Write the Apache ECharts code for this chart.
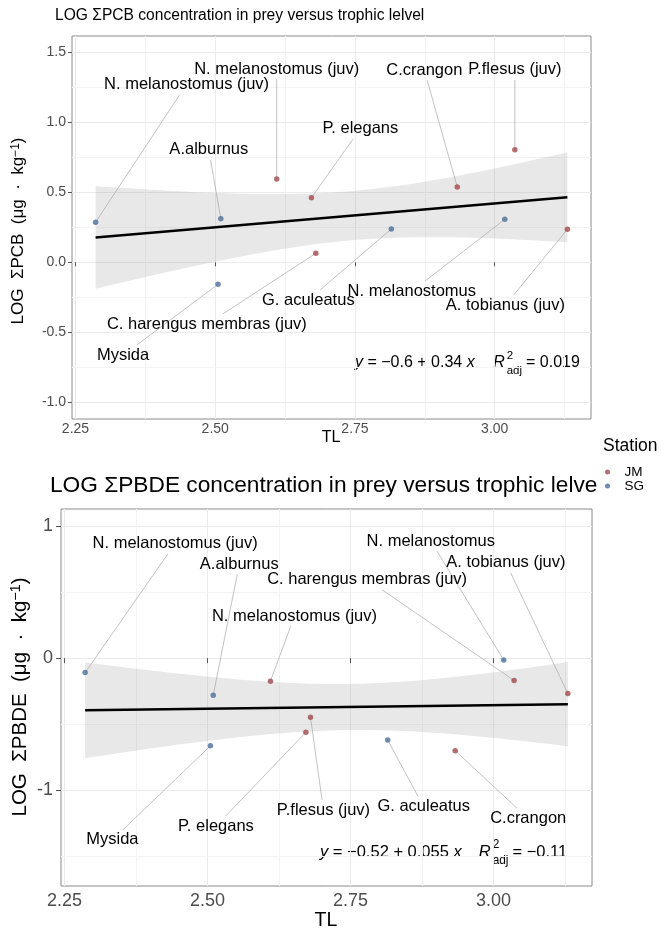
<!DOCTYPE html>
<html>
<head>
<meta charset="utf-8">
<script src="https://cdn.jsdelivr.net/npm/echarts@6/dist/echarts.min.js"></script>
<style>
  html, body { margin: 0; padding: 0; background: #ffffff; }
  #chart { width: 665px; height: 937px; }
</style>
</head>
<body>
<div id="chart"></div>
<script>
// ---- Prey samples: station, trophic level and log concentrations ----
const station = ['SG', 'SG', 'SG', 'JM', 'JM', 'JM', 'SG', 'JM', 'SG', 'JM', 'JM'];
const trophicLevel = [2.286, 2.505, 2.510, 2.610, 2.672, 2.680, 2.815, 2.933, 3.018, 3.036, 3.130];
const logPCB = [0.286, -0.157, 0.311, 0.595, 0.461, 0.064, 0.238, 0.538, 0.307, 0.804, 0.236];
const logPBDE = [-0.109, -0.663, -0.280, -0.174, -0.560, -0.446, -0.618, -0.699, -0.015, -0.169, -0.268];

// species names as printed in each panel
const labelsPCB = ['N. melanostomus (juv)', 'Mysida', 'A.alburnus', 'N. melanostomus (juv)', 'P. elegans',
  'C. harengus membras (juv)', 'G. aculeatus', 'C.crangon', 'N. melanostomus', 'P.flesus (juv)', 'A. tobianus (juv)'];
const labelsPBDE = ['N. melanostomus (juv)', 'Mysida', 'A.alburnus', 'N. melanostomus (juv)', 'P. elegans',
  'P.flesus (juv)', 'G. aculeatus', 'C.crangon', 'N. melanostomus', 'C. harengus membras (juv)', 'A. tobianus (juv)'];

// linear fits (PCB, PBDE) as reported
const fitIntercept = [-0.6, -0.52];
const fitSlope = [0.34, 0.055];
const fitR2adj = [0.019, -0.11];

// axis ticks
const xTicks = [2.25, 2.5, 2.75, 3.0];
const yTicksPCB = [-1, -0.5, 0, 0.5, 1, 1.5];
const yTicksPBDE = [-1, 0, 1];

// ---- layout (pixel offsets of each repelled label centre from its point) ----
const nudgePCB = [[91, -138], [-95, 71], [-12, -69], [0, -110], [49, -69], [-109, 71],
  [-83, 71], [-33, -117], [-93, 72], [0, -80], [-62, 76]];
const nudgePBDE = [[90, -129], [-98, 94], [26, -131], [24, -65], [-90, 94], [13, 93],
  [36, 67], [73, 68], [-73, -119], [-147, -101], [-62, -131]];

const FONT = '"Liberation Sans", Arial, Helvetica, sans-serif';
const stationColor = { JM: '#a04b4b', SG: '#4b6e98' };
const T975_DF9 = 2.262; // Student t, 97.5% quantile, n - 2 = 9 degrees of freedom

const measureCtx = document.createElement('canvas').getContext('2d');
function textWidth(t, font) { measureCtx.font = font; return measureCtx.measureText(t).width; }

const xLo = Math.min(...trophicLevel), xHi = Math.max(...trophicLevel);
const xPad = 0.05 * (xHi - xLo);

// 95% confidence band around the reported line
function confidenceBand(ys, a, b) {
  const n = trophicLevel.length;
  const xbar = trophicLevel.reduce((s, v) => s + v, 0) / n;
  let sxx = 0, rss = 0;
  trophicLevel.forEach((x, i) => { sxx += (x - xbar) ** 2; rss += (ys[i] - (a + b * x)) ** 2; });
  const s = Math.sqrt(rss / (n - 2));
  const out = [];
  for (let k = 0; k < 80; k++) {
    const x = xLo + (xHi - xLo) * k / 79;
    const se = s * Math.sqrt(1 / n + (x - xbar) ** 2 / sxx);
    const yhat = a + b * x;
    out.push([x, yhat - T975_DF9 * se, yhat + T975_DF9 * se]);
  }
  return out;
}

const panels = [
  { values: logPCB, labels: labelsPCB, nudge: nudgePCB, yTicks: yTicksPCB, yMin: -1.119, yMax: 1.616,
    yStep: 0.5, yFmt: v => v.toFixed(1), tickFont: 14, xMargin: 3, yMargin: 6, tickLen: 4 },
  { values: logPBDE, labels: labelsPBDE, nudge: nudgePBDE, yTicks: yTicksPBDE, yMin: -1.722, yMax: 1.127,
    yStep: 1, yFmt: v => String(v), tickFont: 18, xMargin: 6, yMargin: 8, tickLen: 5 }
];

const LABEL_FONT_SIZE = 16.5;
const LABEL_FONT = LABEL_FONT_SIZE + 'px ' + FONT;

const grids = [
  { left: 72, top: 36, width: 519, height: 383 },
  { left: 61, top: 509, width: 531, height: 377 }
].map(g => Object.assign(g, { show: true, borderColor: '#8a8a8a', borderWidth: 1, containLabel: false }));

const xAxes = panels.map((p, k) => ({
  type: 'value', gridIndex: k, min: xLo - xPad, max: xHi + xPad,
  minInterval: 0.25, maxInterval: 0.25,
  axisLine: { show: false },
  axisTick: { show: true, length: p.tickLen, customValues: xTicks, lineStyle: { color: '#555', width: 1 } },
  axisLabel: { customValues: xTicks, formatter: v => Number(v).toFixed(2), fontSize: p.tickFont,
    fontFamily: FONT, color: '#4d4d4d', margin: p.xMargin },
  splitLine: { show: true, lineStyle: { color: '#ebebeb', width: 1 } },
  minorTick: { show: false, splitNumber: 2 },
  minorSplitLine: { show: true, lineStyle: { color: '#f3f3f3', width: 1 } }
}));

const yAxes = panels.map((p, k) => ({
  type: 'value', gridIndex: k, min: p.yMin, max: p.yMax,
  minInterval: p.yStep, maxInterval: p.yStep,
  axisLine: { show: false },
  axisTick: { show: true, length: p.tickLen, customValues: p.yTicks, lineStyle: { color: '#555', width: 1 } },
  axisLabel: { customValues: p.yTicks, formatter: v => p.yFmt(Number(v)), fontSize: p.tickFont,
    fontFamily: FONT, color: '#4d4d4d', margin: p.yMargin },
  splitLine: { show: true, lineStyle: { color: '#ebebeb', width: 1 } },
  minorTick: { show: false, splitNumber: 2 },
  minorSplitLine: { show: true, lineStyle: { color: '#f3f3f3', width: 1 } }
}));

const series = [];
panels.forEach((p, k) => {
  const a = fitIntercept[k], b = fitSlope[k];
  const band = confidenceBand(p.values, a, b);

  // confidence band
  series.push({
    type: 'custom', xAxisIndex: k, yAxisIndex: k, silent: true, z: 1,
    data: band, encode: { x: 0, y: [1, 2] },
    renderItem: (params, api) => {
      if (params.dataIndex !== 0) return null;
      const up = band.map(d => api.coord([d[0], d[2]]));
      const lo = band.map(d => api.coord([d[0], d[1]])).reverse();
      return { type: 'polygon', shape: { points: up.concat(lo) }, style: { fill: 'rgba(150,150,150,0.22)' } };
    }
  });

  // fitted line
  series.push({
    type: 'line', xAxisIndex: k, yAxisIndex: k, silent: true, z: 2, symbol: 'none',
    data: [[xLo, a + b * xLo], [xHi, a + b * xHi]],
    lineStyle: { color: '#000', width: 2.5 }
  });

  const rows = trophicLevel.map((x, i) => [x, p.values[i], i]);

  // leader segments from each point to its label box
  series.push({
    type: 'custom', xAxisIndex: k, yAxisIndex: k, silent: true, z: 3, clip: false,
    data: rows, encode: { x: 0, y: 1 },
    renderItem: (params, api) => {
      const i = api.value(2);
      const pt = api.coord([api.value(0), api.value(1)]);
      const c = [pt[0] + p.nudge[i][0], pt[1] + p.nudge[i][1]];
      const hw = textWidth(p.labels[i], LABEL_FONT) / 2 + 2;
      const hh = LABEL_FONT_SIZE / 2 + 2;
      const dx = pt[0] - c[0], dy = pt[1] - c[1];
      const s = Math.min(dx ? hw / Math.abs(dx) : Infinity, dy ? hh / Math.abs(dy) : Infinity);
      if (s >= 1) return null;
      const e = [c[0] + s * dx, c[1] + s * dy];
      return { type: 'line', shape: { x1: pt[0], y1: pt[1], x2: e[0], y2: e[1] },
        style: { stroke: '#a8a8a8', lineWidth: 0.7 } };
    }
  });

  // points per station
  ['JM', 'SG'].forEach(st => {
    series.push({
      type: 'scatter', name: st, xAxisIndex: k, yAxisIndex: k, z: 4,
      data: rows.filter(r => station[r[2]] === st).map(r => [r[0], r[1]]),
      symbolSize: 5.5, itemStyle: { color: stationColor[st] }
    });
  });

  // species labels
  series.push({
    type: 'custom', xAxisIndex: k, yAxisIndex: k, silent: true, z: 5, clip: false,
    data: rows, encode: { x: 0, y: 1 },
    renderItem: (params, api) => {
      const i = api.value(2);
      const pt = api.coord([api.value(0), api.value(1)]);
      return { type: 'text', x: pt[0] + p.nudge[i][0], y: pt[1] + p.nudge[i][1],
        style: { text: p.labels[i], font: LABEL_FONT, fill: '#000',
          align: 'center', verticalAlign: 'middle' } };
    }
  });
});

// regression equation text, laid out piece by piece
function fmtNum(v) { return v < 0 ? '\u2212' + String(-v) : String(v); }
function equation(k, x0, yc, size, gapR) {
  const it = 'italic ' + size + 'px ' + FONT, rm = size + 'px ' + FONT, sm = (size * 0.72) + 'px ' + FONT;
  const els = [];
  let x = x0;
  const put = (t, font, dy) => {
    els.push({ type: 'text', x: x, y: yc + (dy || 0),
      style: { text: t, font: font, fill: '#000', verticalAlign: 'middle' } });
    return textWidth(t, font);
  };
  x += put('y', it);
  x += put(' = ' + fmtNum(fitIntercept[k]) + ' + ' + fmtNum(fitSlope[k]) + ' ', rm);
  x += put('x', it);
  x += gapR;
  x += put('R', it);
  x += 2;
  const w1 = put('2', sm, -size * 0.42);
  const w2 = put('adj', sm, size * 0.5);
  x += Math.max(w1, w2) + 4;
  put('= ' + fmtNum(fitR2adj[k]), rm);
  return els;
}

function axisTitle(x, y, main, size) {
  return { type: 'text', x: x, y: y, rotation: Math.PI / 2,
    style: { text: '{a|' + main + '}{s|\u22121}{a|)}',
      rich: { a: { fontSize: size, fontFamily: FONT, fill: '#000', color: '#000' },
              s: { fontSize: size * 0.7, fontFamily: FONT, fill: '#000', color: '#000', verticalAlign: 'top' } },
      align: 'center', verticalAlign: 'middle' } };
}

const graphics = [
  { type: 'text', x: 55, y: 16, z: 0,
    style: { text: 'LOG \u03A3PCB concentration in prey versus trophic lelvel', font: '15.6px ' + FONT,
      fill: '#000', verticalAlign: 'middle' } },
  { type: 'text', x: 50, y: 486, z: 0,
    style: { text: 'LOG \u03A3PBDE concentration in prey versus trophic lelvel', font: '22.7px ' + FONT,
      fill: '#000', verticalAlign: 'middle' } },
  { type: 'rect', z: 1, shape: { x: 597, y: 430, width: 68, height: 70 }, style: { fill: '#fff' } },
  { type: 'text', x: 603, y: 446, z: 2,
    style: { text: 'Station', font: '17.5px ' + FONT, fill: '#000', verticalAlign: 'middle' } },
  { type: 'text', x: 331, y: 438, style: { text: 'TL', font: '16px ' + FONT, fill: '#000',
    align: 'center', verticalAlign: 'middle' } },
  { type: 'text', x: 326, y: 921, style: { text: 'TL', font: '19.5px ' + FONT, fill: '#000',
    align: 'center', verticalAlign: 'middle' } },
  axisTitle(18, 231, 'LOG  \u03A3PCB  (\u03BCg  \u00B7  kg', 17),
  axisTitle(20, 697, 'LOG  \u03A3PBDE  (\u03BCg  \u00B7  kg', 20.5)
].concat(equation(0, 355, 363, 16, 18.5), equation(1, 320, 852, 16.5, 17));

const chart = echarts.init(document.getElementById('chart'), null, { renderer: 'canvas' });
chart.setOption({
  animation: false,
  backgroundColor: '#ffffff',
  grid: grids,
  xAxis: xAxes,
  yAxis: yAxes,
  legend: {
    data: ['JM', 'SG'], orient: 'vertical', left: 605, top: 465, padding: 0,
    itemWidth: 24, itemHeight: 5, itemGap: 0, icon: 'circle', selectedMode: false, z: 4,
    textStyle: { fontSize: 13.5, fontFamily: FONT, color: '#000', lineHeight: 12.5 }
  },
  graphic: graphics,
  series: series
});
</script>
</body>
</html>
